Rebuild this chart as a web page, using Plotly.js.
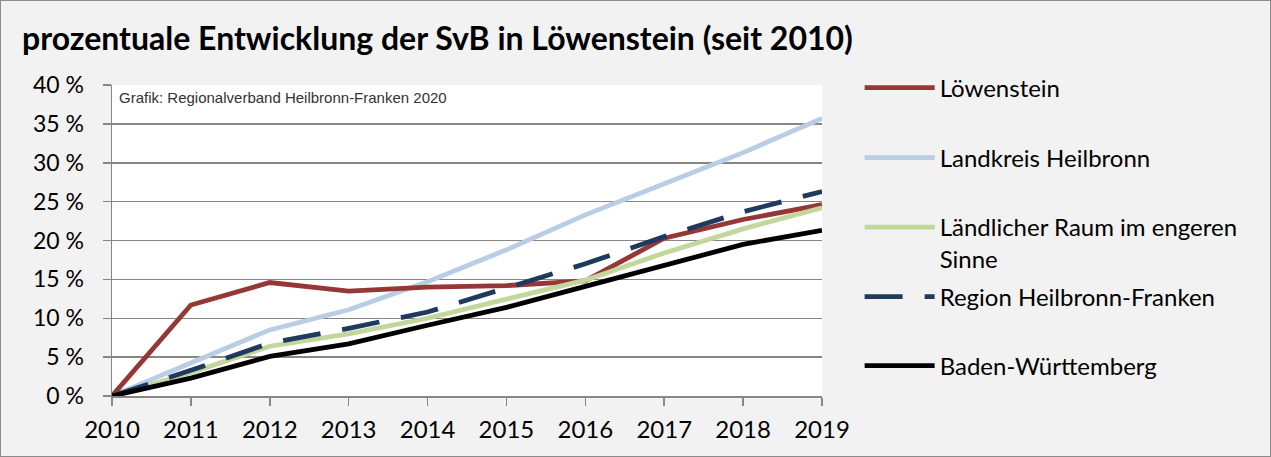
<!DOCTYPE html>
<html>
<head>
<meta charset="utf-8">
<script src="https://cdn.plot.ly/plotly-3.0.1.min.js"></script>
<style>
html,body{margin:0;padding:0;background:#f2f2f2;}
#wrap{width:1271px;height:457px;box-sizing:border-box;border:1px solid #8c8c8c;}
#chart{width:1269px;height:455px;}
</style>
</head>
<body>
<div id="wrap"><div id="chart"></div></div>
<script>
const years = [2010, 2011, 2012, 2013, 2014, 2015, 2016, 2017, 2018, 2019];
const loewenstein   = [0, 11.7, 14.6, 13.5, 14.0, 14.2, 14.8, 20.3, 22.7, 24.6];
const landkreisHN   = [0, 4.2, 8.5, 11.1, 14.7, 18.8, 23.3, 27.3, 31.3, 35.7];
const laendlRaum    = [0, 3.0, 6.4, 8.0, 10.0, 12.5, 14.9, 18.4, 21.5, 24.2];
const regionHNF     = [0, 3.3, 6.8, 8.7, 10.8, 13.9, 17.0, 20.5, 23.7, 26.3];
const badenWuertt   = [0, 2.3, 5.1, 6.7, 9.1, 11.4, 14.1, 16.8, 19.5, 21.3];
const yTicks = [0, 5, 10, 15, 20, 25, 30, 35, 40];

const names = ['Löwenstein', 'Landkreis Heilbronn', 'Ländlicher Raum im engeren<br>Sinne', 'Region Heilbronn-Franken', 'Baden-Württemberg'];
const series = [loewenstein, landkreisHN, laendlRaum, regionHNF, badenWuertt];
const colors = ['#953735', '#b9cde5', '#c3d69b', '#1f3a5f', '#000000'];
const dashes = ['solid', 'solid', 'solid', '38px,22px', 'solid'];
const legendIds = ['legend', 'legend2', 'legend3', 'legend4', 'legend5'];
const legendY = [0.990, 0.765, 0.492, 0.318, 0.0965];

const order = [1, 0, 2, 3, 4]; // draw order
const traces = order.map(i => ({
  x: years, y: series[i], type: 'scatter', mode: 'lines', name: names[i],
  line: {color: colors[i], width: 4.8, dash: dashes[i]},
  legend: legendIds[i], hoverinfo: 'skip'
}));

const fontMain = 'Lato, "Open Sans", sans-serif';
const layout = {
  width: 1269, height: 455,
  paper_bgcolor: '#f2f2f2', plot_bgcolor: '#ffffff',
  margin: {l: 111, r: 448, t: 84, b: 60},
  title: {text: '<b>prozentuale Entwicklung der SvB in Löwenstein (seit 2010)</b>',
          font: {family: fontMain, size: 32, color: '#000'},
          xref: 'container', x: 21/1269, xanchor: 'left',
          yref: 'container', y: 1 - 38/455, yanchor: 'middle'},
  xaxis: {range: [2010, 2019], tickvals: years, ticktext: years.map(String),
          showgrid: false, zeroline: false, showline: true, linecolor: '#868686', linewidth: 1.5,
          ticks: 'outside', ticklen: 8, tickcolor: '#868686', tickwidth: 1.5, ticklabelstandoff: 4,
          tickfont: {family: fontMain, size: 24, color: '#000'}, fixedrange: true},
  yaxis: {range: [0, 40], tickvals: yTicks, ticktext: yTicks.map(v => v + ' %'),
          showgrid: true, gridcolor: '#868686', gridwidth: 1.5, zeroline: false,
          showline: true, linecolor: '#868686', linewidth: 1.5,
          ticks: 'outside', ticklen: 8, tickcolor: '#868686', tickwidth: 1.5, ticklabelstandoff: 14,
          tickfont: {family: fontMain, size: 23, color: '#000'}, fixedrange: true},
  annotations: [{text: 'Grafik: Regionalverband Heilbronn-Franken 2020', xref: 'paper', yref: 'paper',
                 x: 0.007, y: 0.995, xanchor: 'left', yanchor: 'top', showarrow: false,
                 font: {family: '"Liberation Sans", Arial, sans-serif', size: 15, color: '#333'}}],
  showlegend: true
};
legendIds.forEach((id, i) => {
  layout[id] = {x: 1.053, xanchor: 'left', y: legendY[i], yanchor: 'middle',
                bgcolor: 'rgba(0,0,0,0)', borderwidth: 0, itemwidth: 70, valign: 'top',
                font: {family: fontMain, size: 24, color: '#000'}};
});

Plotly.newPlot('chart', traces, layout, {displayModeBar: false, staticPlot: true});
</script>
</body>
</html>
